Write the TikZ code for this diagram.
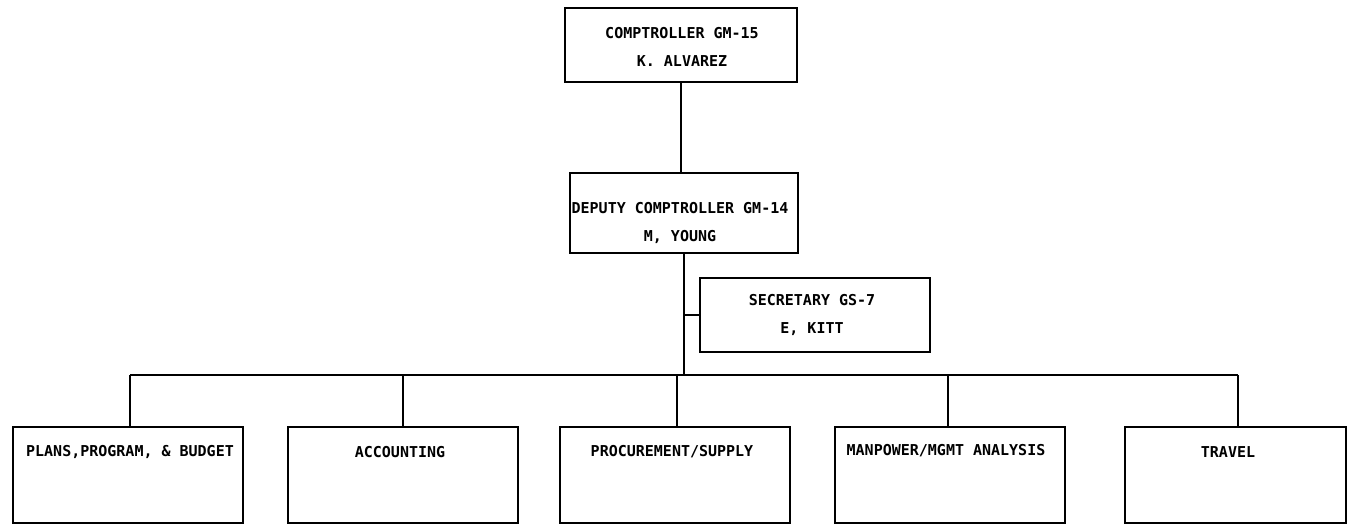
\documentclass[tikz,border=0pt]{standalone}
\usepackage{fontspec}
\newfontfamily\plotfont{DejaVu Sans Mono}
\begin{document}
\begin{tikzpicture}[x=1pt,y=-1pt,
  box/.style={draw, line width=1.5pt, inner sep=0pt},
  lbl/.style={font=\plotfont\bfseries\fontsize{15}{28}\selectfont, align=center, inner sep=0pt},
  conn/.style={draw, line width=1.5pt}]
\useasboundingbox (0,0) rectangle (1348,527);
% boxes
\node[box, minimum width=232pt, minimum height=74pt] (top) at (681,45) {};
\node[box, minimum width=228pt, minimum height=80pt] (dep) at (684,213) {};
\node[box, minimum width=230pt, minimum height=74pt] (sec) at (815,315) {};
\node[box, minimum width=230pt, minimum height=96pt] (b1) at (128,475) {};
\node[box, minimum width=230pt, minimum height=96pt] (b2) at (403,475) {};
\node[box, minimum width=230pt, minimum height=96pt] (b3) at (675,475) {};
\node[box, minimum width=230pt, minimum height=96pt] (b4) at (950,475) {};
\node[box, minimum width=221pt, minimum height=96pt] (b5) at (1235.5,475) {};
% texts
\node[lbl] (ttop) at (682,47) {COMPTROLLER GM-15\\K. ALVAREZ};
\node[lbl] (tdep) at (680,223) {DEPUTY COMPTROLLER GM-14\\M, YOUNG};
\node[lbl] (tsec) at (812,315) {SECRETARY GS-7\\E, KITT};
\node[lbl] (t1) at (130,452) {PLANS,PROGRAM, \& BUDGET};
\node[lbl] (t2) at (400,452) {ACCOUNTING};
\node[lbl] (t3) at (672,452) {PROCUREMENT/SUPPLY};
\node[lbl] (t4) at (946,451) {MANPOWER/MGMT ANALYSIS};
\node[lbl] (t5) at (1228,452) {TRAVEL};
% connectors
\coordinate (trunk) at (684,375);
\coordinate (d1) at (130,375);
\coordinate (d2) at (403,375);
\coordinate (d3) at (677,375);
\coordinate (d4) at (948,375);
\coordinate (d5) at (1238,375);
\draw[conn] (top.south) -- (top.south |- dep.north);
\draw[conn] (trunk |- dep.south) -- (trunk);
\draw[conn] (trunk |- sec.west) -- (sec.west);
\draw[conn] (d1) -- (d5);
\draw[conn] (d1) -- (d1 |- b1.north);
\draw[conn] (d2) -- (d2 |- b2.north);
\draw[conn] (d3) -- (d3 |- b3.north);
\draw[conn] (d4) -- (d4 |- b4.north);
\draw[conn] (d5) -- (d5 |- b5.north);
\end{tikzpicture}
\end{document}
